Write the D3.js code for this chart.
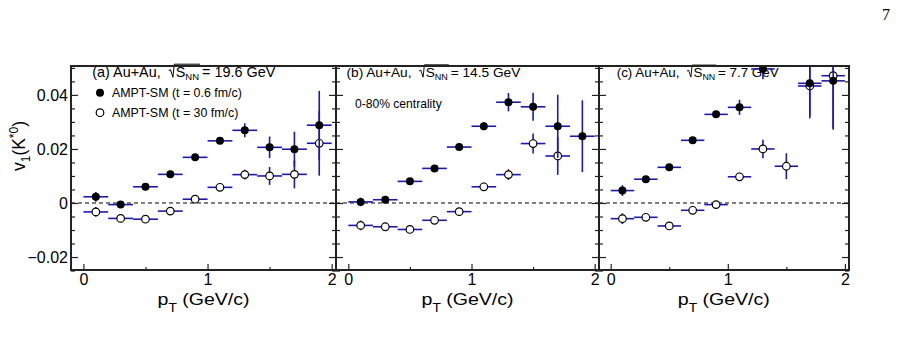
<!DOCTYPE html>
<html>
<head>
<meta charset="utf-8">
<script src="https://cdn.jsdelivr.net/npm/d3@7.9.0/dist/d3.min.js"></script>
<style>
  body { margin: 0; background: #fff; }
  svg { display: block; font-family: 'Liberation Sans', Arial, sans-serif; }
  .tick text { font-family: 'Liberation Sans', Arial, sans-serif; font-size: 16px; fill: #000; }
</style>
</head>
<body>
<svg id="chart" width="904" height="352"></svg>
<script>
// pT bin centres (GeV/c), bins are 0.2 wide
const pt = [0.1, 0.3, 0.5, 0.7, 0.9, 1.1, 1.3, 1.5, 1.7, 1.9];
const ptHalfWidth = 0.1;

// (a) 19.6 GeV
const aEarly = [0.0023, -0.0006, 0.006, 0.0106, 0.0169, 0.023, 0.0269, 0.0206, 0.0199, 0.0288];
const aEarlyErr = [0.0018, 0.0008, 0.0008, 0.0008, 0.0008, 0.0012, 0.0026, 0.004, 0.0065, 0.0127];
const aLate = [-0.0033, -0.0057, -0.006, -0.003, 0.0014, 0.0058, 0.0105, 0.01, 0.0106, 0.0221];
const aLateErr = [0.0018, 0.0008, 0.0008, 0.001, 0.001, 0.001, 0.0018, 0.0033, 0.0052, 0.012];

// (b) 14.5 GeV
const bEarly = [0.0004, 0.0012, 0.008, 0.0128, 0.0207, 0.0284, 0.0373, 0.0356, 0.0284, 0.0247];
const bEarlyErr = [0.0016, 0.001, 0.001, 0.001, 0.001, 0.0015, 0.0034, 0.0052, 0.0117, 0.0133];
const bLate = [-0.0083, -0.0088, -0.0098, -0.0064, -0.0032, 0.006, 0.0105, 0.022, 0.0174, null];
const bLateErr = [0.0018, 0.001, 0.001, 0.001, 0.001, 0.0015, 0.002, 0.0037, 0.007, null];

// (c) 7.7 GeV
const cEarly = [0.0046, 0.0088, 0.0132, 0.0232, 0.0328, 0.0354, 0.0496, null, 0.0443, 0.0452];
const cEarlyErr = [0.002, 0.001, 0.001, 0.001, 0.001, 0.0028, 0.0038, null, 0.012, 0.0175];
const cLate = [-0.0058, -0.0053, -0.0085, -0.0027, -0.0006, 0.0097, 0.02, 0.0136, 0.0433, 0.0471];
const cLateErr = [0.002, 0.001, 0.001, 0.001, 0.001, 0.0015, 0.0034, 0.0048, 0.012, 0.02];

const panelLabels = ['(a) Au+Au,', '(b) Au+Au,', '(c) Au+Au,'];
const energies = ['= 19.6 GeV', '= 14.5 GeV', '= 7.7 GeV'];
const legendLabels = ['AMPT-SM (t = 0.6 fm/c)', 'AMPT-SM (t = 30 fm/c)'];
const yTicks = [-0.02, 0, 0.02, 0.04];
const xTicks = [0, 1, 2];

const panels = [
  { id: 'a', left: 71, right: 336, titleX: 92.3, titleScale: 1, early: aEarly, earlyErr: aEarlyErr, late: aLate, lateErr: aLateErr },
  { id: 'b', left: 336, right: 599, titleX: 346.5, titleScale: 0.95, early: bEarly, earlyErr: bEarlyErr, late: bLate, lateErr: bLateErr },
  { id: 'c', left: 599, right: 849, titleX: 616.7, titleScale: 0.93, early: cEarly, earlyErr: cEarlyErr, late: cLate, lateErr: cLateErr },
];

const frameTop = 66;
const frameBottom = 270;
const errColor = '#1a1aae';

const svg = d3.select('#chart');

const yScale = d3.scaleLinear().domain([-0.0248, 0.0507]).range([frameBottom, frameTop]);

const minorY = d3.range(-0.025, 0.0506, 0.005).map((d) => +d.toFixed(3)).filter((d) => !yTicks.includes(d));

function drawSeries(g, x, vals, errs, filled) {
  const pts = pt.map((p, i) => ({ p, v: vals[i], e: errs[i] })).filter((d) => d.v !== null);
  const eb = g.append('g').attr('stroke', errColor).attr('stroke-width', 1.6);
  eb.selectAll('line.h')
    .data(pts)
    .join('line')
    .attr('class', 'h')
    .attr('x1', (d) => x(d.p - ptHalfWidth))
    .attr('x2', (d) => x(d.p + ptHalfWidth))
    .attr('y1', (d) => yScale(d.v))
    .attr('y2', (d) => yScale(d.v));
  eb.selectAll('line.v')
    .data(pts)
    .join('line')
    .attr('class', 'v')
    .attr('x1', (d) => x(d.p))
    .attr('x2', (d) => x(d.p))
    .attr('y1', (d) => yScale(d.v - d.e))
    .attr('y2', (d) => yScale(d.v + d.e));
  g.append('g')
    .selectAll('circle')
    .data(pts)
    .join('circle')
    .attr('cx', (d) => x(d.p))
    .attr('cy', (d) => yScale(d.v))
    .attr('r', filled ? 4 : 3.8)
    .attr('fill', filled ? '#000' : '#fff')
    .attr('stroke', '#000')
    .attr('stroke-width', filled ? 0 : 1.2);
}

function drawTitle(parent, x0, k, label, energy) {
  const base = 76.7;
  const g = parent.append('g').attr('transform', `translate(${x0},${base}) scale(${k})`);
  const t1 = g.append('text').attr('x', 0).attr('y', 0).attr('font-size', 14.4).text(label);
  const w1 = t1.node().getComputedTextLength();
  const rx = w1 + 8;
  const s = g.append('text').attr('x', rx + 7).attr('y', 0).attr('font-size', 14.4);
  s.append('tspan').text('S');
  s.append('tspan').attr('dy', 3.5).attr('font-size', 9.5).text('NN');
  const ws = s.node().getComputedTextLength();
  g.append('path')
    .attr('d', `M${rx},-6 L${rx + 1.8},-7 L${rx + 4.2},0.5 L${rx + 5.6},-12.5 L${rx + 8 + ws},-12.5`)
    .attr('fill', 'none')
    .attr('stroke', '#000')
    .attr('stroke-width', 1);
  g.append('text').attr('x', rx + 10 + ws).attr('y', 0).attr('font-size', 14.4).text(energy);
}

panels.forEach((pn, idx) => {
  const x = d3.scaleLinear().domain([-0.1, 2.035]).range([pn.left, pn.right]);
  const g = svg.append('g');

  g.append('clipPath')
    .attr('id', 'clip-' + pn.id)
    .append('rect')
    .attr('x', pn.left)
    .attr('y', frameTop)
    .attr('width', pn.right - pn.left)
    .attr('height', frameBottom - frameTop);

  // title text (drawn under the markers)
  drawTitle(g, pn.titleX, pn.titleScale, panelLabels[idx], energies[idx]);

  // zero line
  g.append('line')
    .attr('x1', pn.left)
    .attr('x2', pn.right)
    .attr('y1', yScale(0))
    .attr('y2', yScale(0))
    .attr('stroke', '#000')
    .attr('stroke-width', 1)
    .attr('stroke-dasharray', '4,3');

  const data = g.append('g').attr('clip-path', `url(#clip-${pn.id})`);
  drawSeries(data, x, pn.late, pn.lateErr, false);
  drawSeries(data, x, pn.early, pn.earlyErr, true);

  // y ticks on both sides, pointing inward
  const leftAxis = d3.axisLeft(yScale).tickValues(yTicks).tickSize(-7).tickPadding(3)
    .tickFormat(idx === 0 ? (d) => (d === 0 ? '0' : d3.format('.2f')(d)) : '');
  g.append('g').attr('transform', `translate(${pn.left},0)`).call(leftAxis);
  g.append('g').attr('transform', `translate(${pn.left},0)`)
    .call(d3.axisLeft(yScale).tickValues(minorY).tickSize(-4).tickFormat(''));
  g.append('g').attr('transform', `translate(${pn.right},0)`)
    .call(d3.axisRight(yScale).tickValues(yTicks).tickSize(-7).tickFormat(''));
  g.append('g').attr('transform', `translate(${pn.right},0)`)
    .call(d3.axisRight(yScale).tickValues(minorY).tickSize(-4).tickFormat(''));

  // x ticks
  g.append('g').attr('transform', `translate(0,${frameBottom})`)
    .call(d3.axisBottom(x).tickValues(xTicks).tickSize(-6).tickPadding(4).tickFormat(d3.format('d')));
  g.append('g').attr('transform', `translate(0,${frameBottom})`)
    .call(d3.axisBottom(x).tickValues([0.5, 1.5]).tickSize(-3).tickFormat(''));

  g.selectAll('.domain').remove();
  g.selectAll('.tick line').attr('stroke', '#222').attr('stroke-width', 1.2);
  g.selectAll('.tick text').attr('font-size', 16.5);

  // frame
  g.append('rect')
    .attr('x', pn.left)
    .attr('y', frameTop)
    .attr('width', pn.right - pn.left)
    .attr('height', frameBottom - frameTop)
    .attr('fill', 'none')
    .attr('stroke', '#222')
    .attr('stroke-width', 2);

  // x axis title, slightly widened like the original
  const xt = g.append('text')
    .attr('transform', `translate(${x(1) - 50},305) scale(1.15,1)`)
    .attr('font-size', 17);
  xt.append('tspan').text('p');
  xt.append('tspan').attr('dy', 7).attr('font-size', 12).text('T');
  xt.append('tspan').attr('dy', -7).text(' (GeV/c)');
});

// legend in panel (a)
const leg = svg.append('g');
legendLabels.forEach((lab, i) => {
  const cy = 92.7 + i * 20;
  leg.append('circle')
    .attr('cx', 100)
    .attr('cy', cy)
    .attr('r', i === 0 ? 4 : 3.8)
    .attr('fill', i === 0 ? '#000' : '#fff')
    .attr('stroke', '#000')
    .attr('stroke-width', i === 0 ? 0 : 1.2);
  leg.append('text')
    .attr('x', 112)
    .attr('y', cy + 4.2)
    .attr('font-size', 12.4)
    .text(lab);
});

svg.append('text')
  .attr('x', 355)
  .attr('y', 108)
  .attr('font-size', 12.1)
  .text('0-80% centrality');

// y axis title
const yt = svg.append('text')
  .attr('transform', 'translate(25,146) rotate(-90)')
  .attr('text-anchor', 'middle')
  .attr('font-size', 17.5);
yt.append('tspan').text('v');
yt.append('tspan').attr('dy', 5).attr('font-size', 12).text('1');
yt.append('tspan').attr('dy', -5).text('(K');
yt.append('tspan').attr('dy', -7).attr('font-size', 12).text('*0');
yt.append('tspan').attr('dy', 7).text(')');

// page number
svg.append('text')
  .attr('x', 882)
  .attr('y', 20)
  .attr('font-family', "'Liberation Serif', 'DejaVu Serif', serif")
  .attr('font-size', 16)
  .text('7');
</script>
</body>
</html>
